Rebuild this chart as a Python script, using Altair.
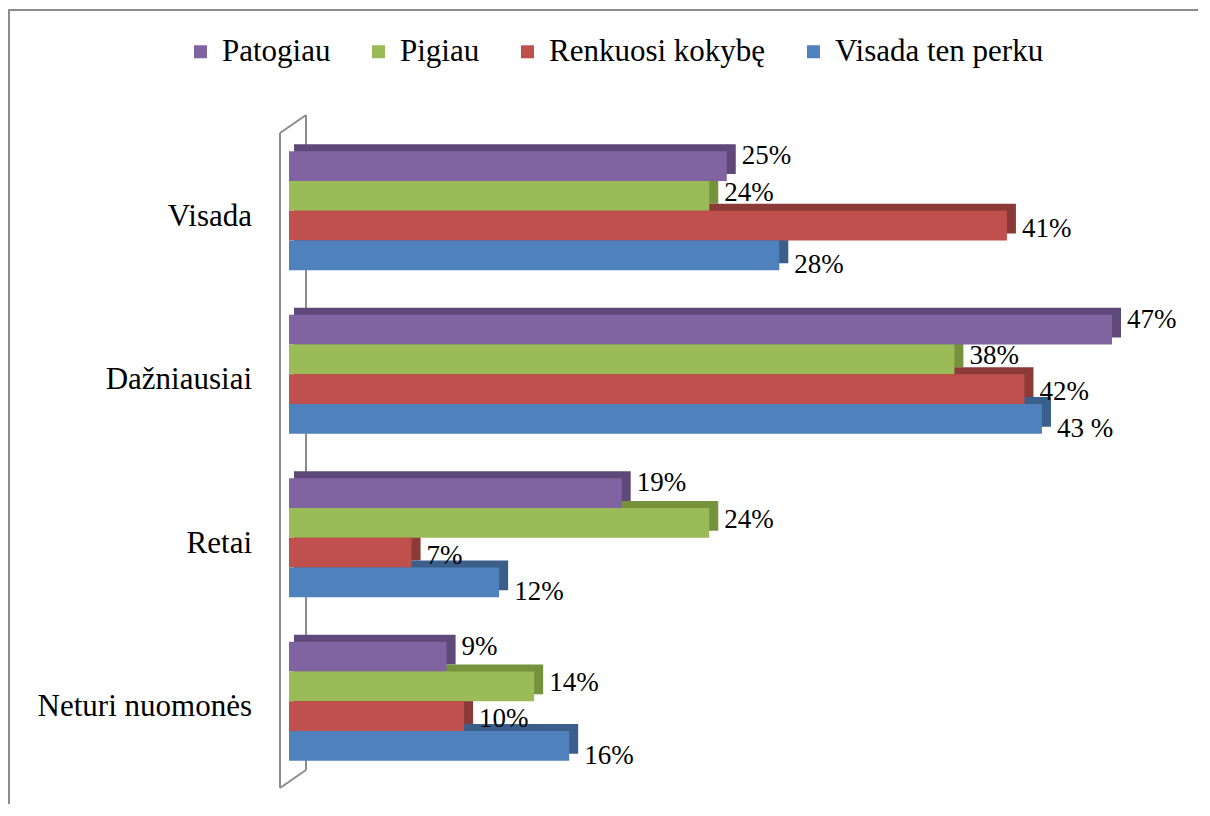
import altair as alt
import pandas as pd

categories = ["Visada", "Dažniausiai", "Retai", "Neturi nuomonės"]
series = ["Patogiau", "Pigiau", "Renkuosi kokybę", "Visada ten perku"]

patogiau = [25, 47, 19, 9]
pigiau = [24, 38, 24, 14]
renkuosi = [41, 42, 7, 10]
visada_ten = [28, 43, 12, 16]

patogiau_lbl = ["25%", "47%", "19%", "9%"]
pigiau_lbl = ["24%", "38%", "24%", "14%"]
renkuosi_lbl = ["41%", "42%", "7%", "10%"]
visada_ten_lbl = ["28%", "43 %", "12%", "16%"]

colors = ["#8064A2", "#9BBB59", "#C0504D", "#4F81BD"]
dark_colors = ["#5F497A", "#76923C", "#8C3A37", "#3A5F8B"]

values = [patogiau, pigiau, renkuosi, visada_ten]
labels = [patogiau_lbl, pigiau_lbl, renkuosi_lbl, visada_ten_lbl]

rows = []
for si, s in enumerate(series):
    for ci, c in enumerate(categories):
        rows.append({"cat": c, "series": s, "value": values[si][ci],
                     "label": labels[si][ci], "dark": dark_colors[si]})
df = pd.DataFrame(rows)

FONT = "Liberation Serif"

x_scale = alt.Scale(domain=[0, 47], range=[281, 1104], nice=False, zero=True)
y_scale = alt.Scale(domain=categories, range=[121, 775], paddingInner=0, paddingOuter=0)
yoff_main = alt.Scale(domain=series, range=[0, 163.5], paddingInner=0, paddingOuter=0.75)
yoff_shadow = alt.Scale(domain=series, range=[-7, 156.5], paddingInner=0, paddingOuter=0.75)

base = alt.Chart(df)

one = pd.DataFrame({"a": [0]})
wall_color = "#8C8C8C"
wall_left = alt.Chart(one).mark_rule(color=wall_color, strokeWidth=2).encode(
    x=alt.value(272), x2=alt.value(272), y=alt.value(125), y2=alt.value(780))
wall_right = alt.Chart(one).mark_rule(color=wall_color, strokeWidth=2).encode(
    x=alt.value(298), x2=alt.value(298), y=alt.value(107), y2=alt.value(762))
wall_top = alt.Chart(one).mark_rule(color=wall_color, strokeWidth=2).encode(
    x=alt.value(272), x2=alt.value(298), y=alt.value(125), y2=alt.value(107))
wall_bottom = alt.Chart(one).mark_rule(color=wall_color, strokeWidth=2).encode(
    x=alt.value(272), x2=alt.value(298), y=alt.value(780), y2=alt.value(762))

border_top = alt.Chart(one).mark_rule(color="#8C8C8C", strokeWidth=2).encode(
    x=alt.value(0), x2=alt.value(1210), y=alt.value(2), y2=alt.value(2))
border_left = alt.Chart(one).mark_rule(color="#8C8C8C", strokeWidth=2).encode(
    x=alt.value(1), x2=alt.value(1), y=alt.value(1), y2=alt.value(810))

shadow = base.mark_bar(xOffset=9, x2Offset=5).encode(
    x=alt.X("value:Q", scale=x_scale, axis=None),
    x2=alt.datum(0),
    y=alt.Y("cat:N", scale=y_scale, axis=None, sort=categories),
    yOffset=alt.YOffset("series:N", scale=yoff_shadow, sort=series),
    fill=alt.Fill("dark:N", scale=None, legend=None),
)

bars = base.mark_bar().encode(
    x=alt.X("value:Q", scale=x_scale, axis=None),
    x2=alt.datum(0),
    y=alt.Y("cat:N", scale=y_scale, axis=None, sort=categories),
    yOffset=alt.YOffset("series:N", scale=yoff_main, sort=series),
    color=alt.Color("series:N", scale=alt.Scale(domain=series, range=colors),
                    legend=alt.Legend(title=None, orient="none", legendX=177, legendY=28,
                                      direction="horizontal", symbolType="square",
                                      symbolSize=169, symbolStrokeWidth=0,
                                      labelFont=FONT, labelFontSize=31, labelColor="black",
                                      labelOffset=6, columnPadding=32, padding=0,
                                      labelLimit=0)),
)

data_labels = base.mark_text(align="left", baseline="middle", dx=15, font=FONT,
                             fontSize=27, color="black").encode(
    x=alt.X("value:Q", scale=x_scale, axis=None),
    y=alt.Y("cat:N", scale=y_scale, axis=None, sort=categories),
    yOffset=alt.YOffset("series:N", scale=yoff_main, sort=series),
    text="label:N",
)

cat_df = pd.DataFrame({"cat": categories})
cat_labels = alt.Chart(cat_df).mark_text(align="right", baseline="middle", dy=6,
                                         font=FONT, fontSize=31, color="black").encode(
    x=alt.value(244),
    y=alt.Y("cat:N", scale=y_scale, axis=None, sort=categories),
    text="cat:N",
)

chart = alt.layer(
    border_top, border_left,
    wall_left, wall_right, wall_top, wall_bottom,
    shadow, bars, data_labels, cat_labels,
).resolve_scale(
    yOffset="independent"
).properties(
    width=1190, height=796, padding=0,
    autosize=alt.AutoSizeParams(type="none"),
    background="white",
).configure_view(stroke=None)

chart.save("out.html", embed_options={"renderer": "svg", "actions": False})
